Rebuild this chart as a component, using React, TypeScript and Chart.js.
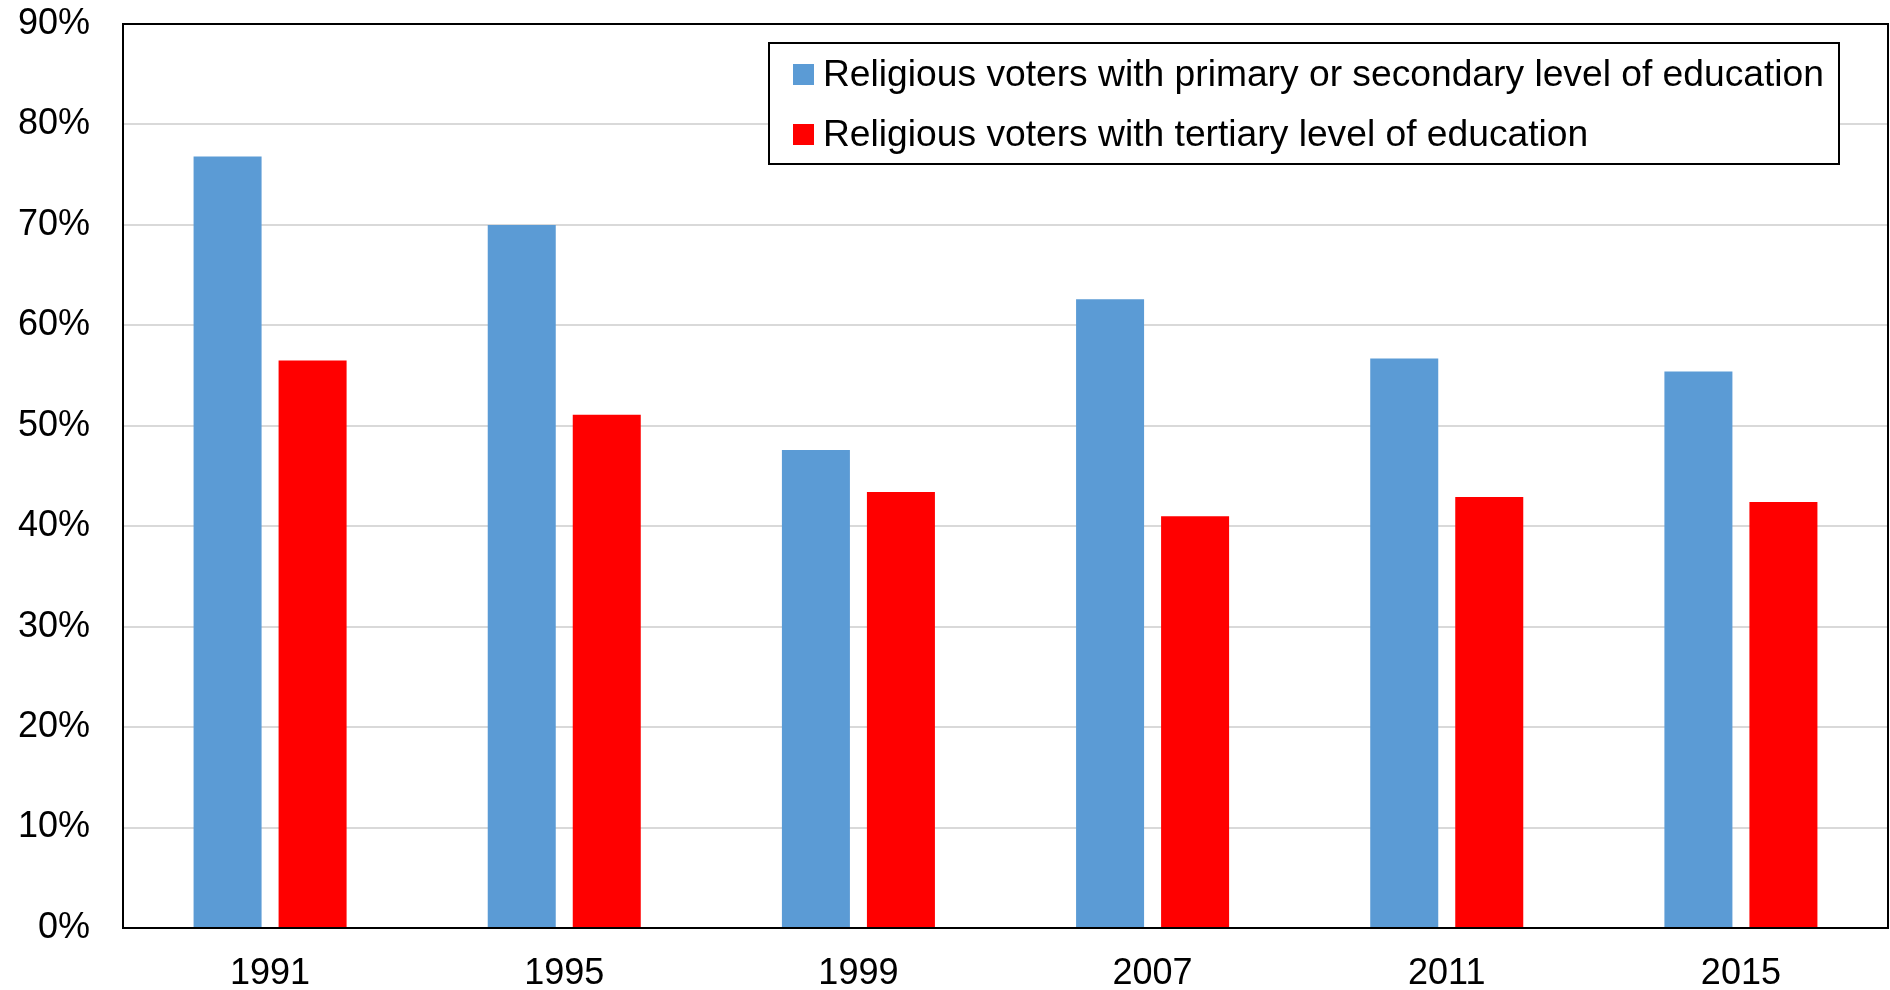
import React, { useEffect, useRef } from "react";
import { Chart, registerables } from "chart.js";

Chart.register(...registerables);

const years = ["1991", "1995", "1999", "2007", "2011", "2015"];
const primarySecondary = [76.8, 70.0, 47.6, 62.6, 56.7, 55.4];
const tertiary = [56.5, 51.1, 43.4, 41.0, 42.9, 42.4];
const seriesLabels = [
  "Religious voters with primary or secondary level of education",
  "Religious voters with tertiary level of education",
];
const seriesColors = ["#5B9BD5", "#FF0000"];

const FONT = "'Liberation Sans', Arial, sans-serif";

const borderLegendPlugin = {
  id: "borderLegend",
  afterDraw(chart: any) {
    const { ctx, chartArea } = chart;
    ctx.save();
    ctx.strokeStyle = "#000";
    ctx.lineWidth = 2;
    ctx.strokeRect(chartArea.left, chartArea.top, chartArea.right - chartArea.left, chartArea.bottom - chartArea.top);

    // legend box
    const bx = 769, by = 43, bw = 1070, bh = 121;
    ctx.fillStyle = "#fff";
    ctx.fillRect(bx, by, bw, bh);
    ctx.strokeRect(bx, by, bw, bh);
    ctx.font = `37px ${FONT}`;
    ctx.textBaseline = "middle";
    ctx.textAlign = "left";
    const w0 = ctx.measureText(chart.data.datasets[0].label).width;
    const sx = Math.min(1.1, 1001 / w0);
    const rows = [74, 134];
    chart.data.datasets.forEach((ds: any, i: number) => {
      ctx.fillStyle = ds.backgroundColor;
      ctx.fillRect(793, rows[i] - 10, 21, 21);
      ctx.fillStyle = "#000";
      ctx.save();
      ctx.translate(823, rows[i] + 2);
      ctx.scale(sx, 1);
      ctx.fillText(ds.label, 0, 0);
      ctx.restore();
    });
    ctx.restore();
  },
};

export default function App() {
  const ref = useRef<HTMLCanvasElement>(null);
  useEffect(() => {
    document.body.style.margin = "0";
    const chart = new Chart(ref.current!, {
      type: "bar",
      data: {
        labels: years,
        datasets: [
          { label: seriesLabels[0], data: primarySecondary, backgroundColor: seriesColors[0] },
          { label: seriesLabels[1], data: tertiary, backgroundColor: seriesColors[1] },
        ],
      },
      options: {
        animation: false,
        responsive: false,
        maintainAspectRatio: false,
        layout: { padding: { top: 24, right: 2, left: 0, bottom: 0 } },
        datasets: { bar: { categoryPercentage: 0.578, barPercentage: 0.8 } },
        plugins: { legend: { display: false }, tooltip: { enabled: false }, title: { display: false } },
        scales: {
          x: {
            grid: { display: false, drawTicks: false },
            border: { display: false },
            ticks: { color: "#000", font: { family: FONT, size: 36 }, padding: 24 },
            afterFit: (s: any) => { s.height = 62; s.paddingLeft = 0; s.paddingRight = 0; },
          },
          y: {
            min: 0,
            max: 90,
            grid: { color: "#D9D9D9", lineWidth: 2, drawTicks: false },
            border: { display: false },
            ticks: {
              stepSize: 10,
              color: "#000",
              font: { family: FONT, size: 36 },
              padding: 33,
              callback: (v: any) => `${v}%`,
            },
            afterFit: (s: any) => { s.width = 123; s.paddingTop = 0; s.paddingBottom = 0; },
          },
        },
      },
      plugins: [borderLegendPlugin],
    });
    return () => chart.destroy();
  }, []);
  return <canvas ref={ref} width={1890} height={990} style={{ display: "block" }} />;
}
